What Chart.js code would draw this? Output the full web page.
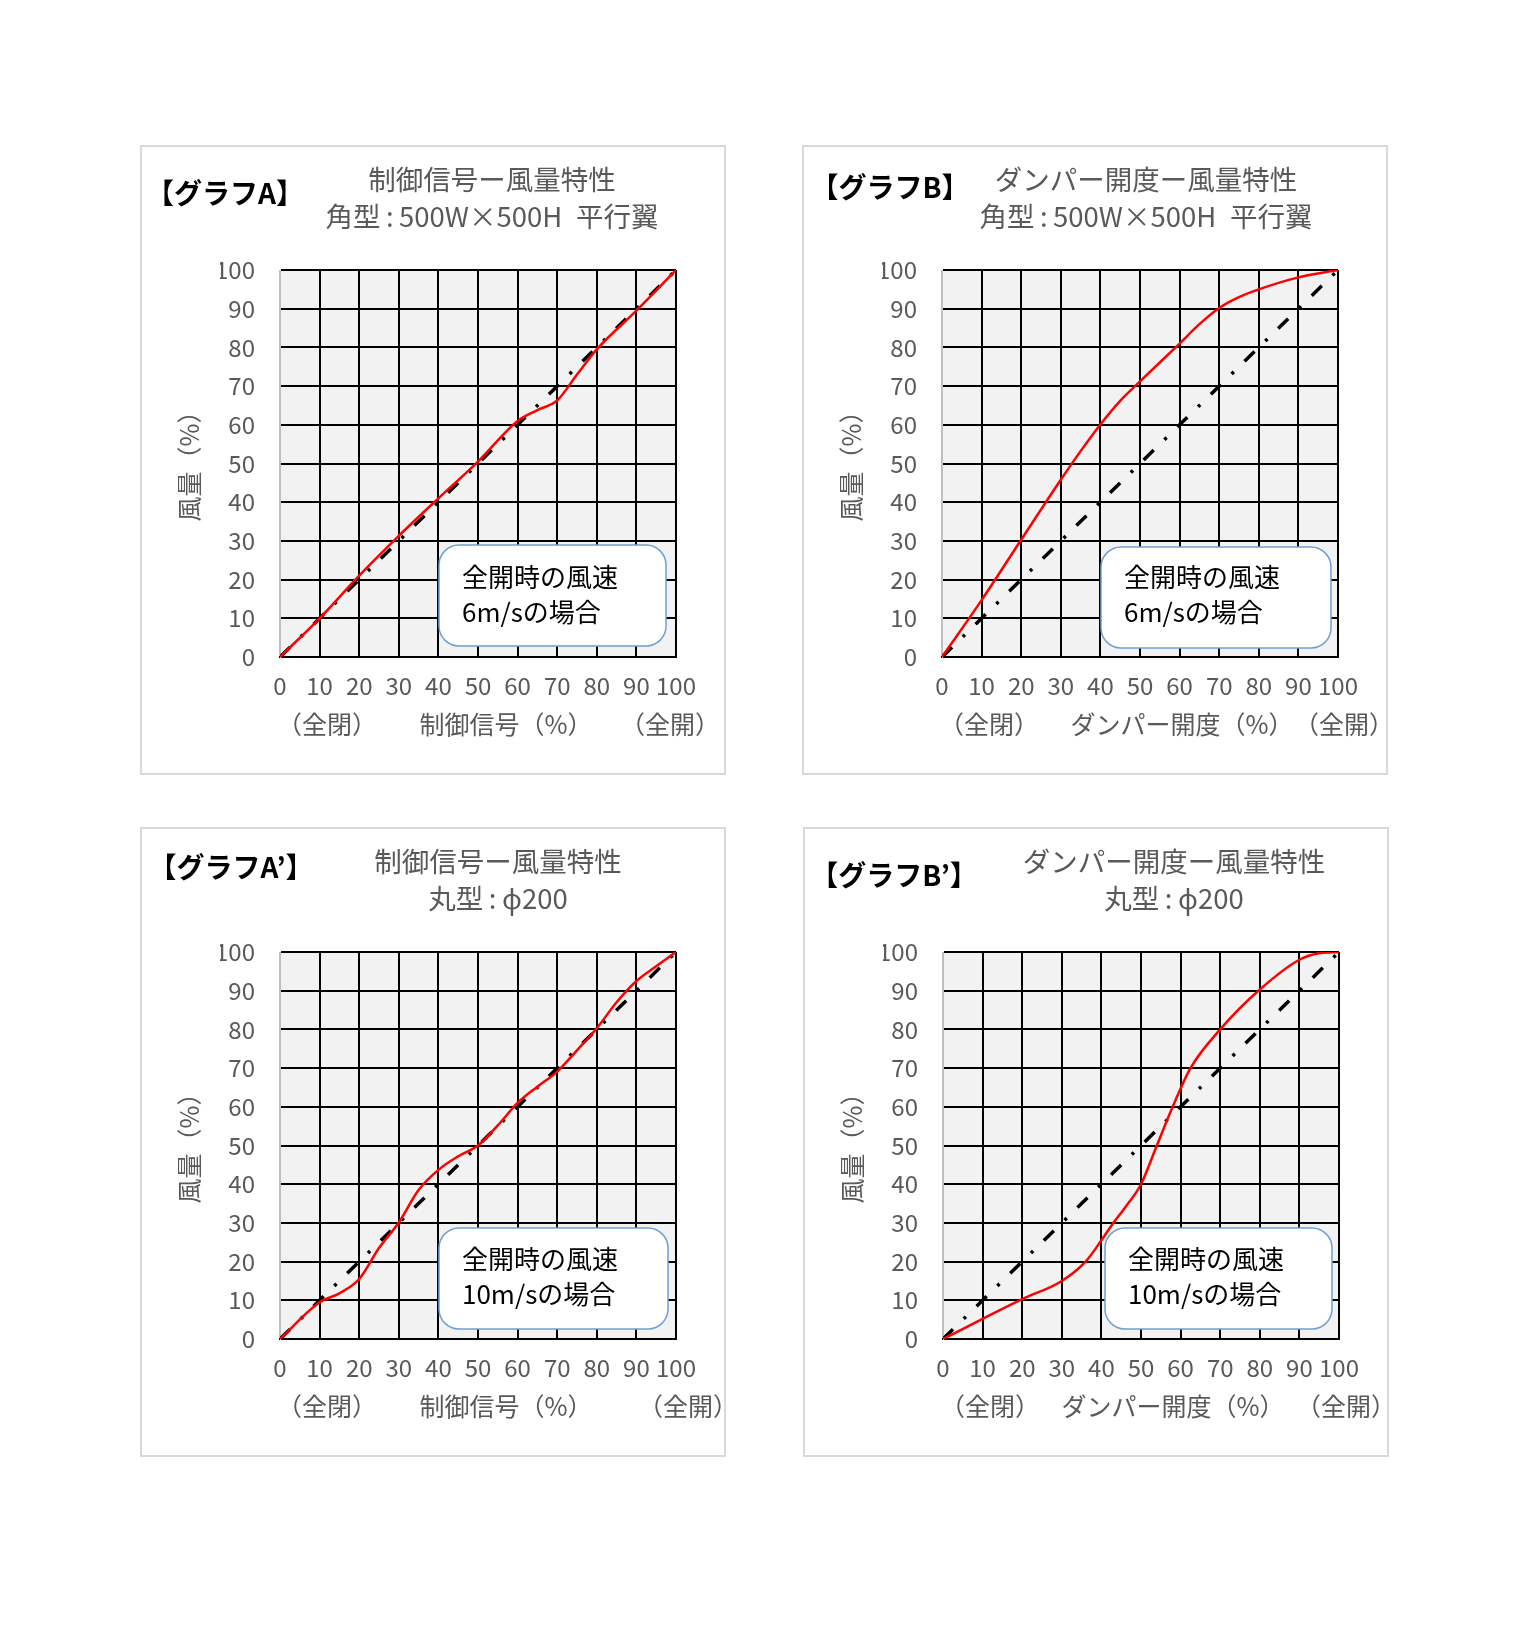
<!DOCTYPE html>
<html>
<head>
<meta charset="utf-8">
<script src="https://cdn.jsdelivr.net/npm/chart.js@4.4.1/dist/chart.umd.min.js"></script>
<style>
  body { margin: 0; background: #fff; width: 1532px; height: 1648px; position: relative; }
  .panel { position: absolute; width: 586px; height: 630px; box-shadow: inset 0 0 0 2px #d9d9d9; }
  .panel canvas { position: absolute; left: 0; top: 0; }
</style>
</head>
<body>
<div class="panel" style="left:140px;top:145px"><canvas id="chartA" width="586" height="630"></canvas></div>
<div class="panel" style="left:802px;top:145px"><canvas id="chartB" width="586" height="630"></canvas></div>
<div class="panel" style="left:140px;top:827px"><canvas id="chartA2" width="586" height="630"></canvas></div>
<div class="panel" style="left:803px;top:827px"><canvas id="chartB2" width="586" height="630"></canvas></div>
<script>
// diagonal reference (dash-dot)
const refX = [0, 100];
const refY = [0, 100];

// Graph A: control signal vs air volume (rectangular)
const signalA = [0, 10, 20, 30, 40, 50, 60, 65, 70, 75, 80, 90, 100];
const flowA   = [0, 10, 21, 31.3, 41, 50.5, 61, 63.8, 66.3, 73, 79.5, 89.5, 100];

// Graph B: damper opening vs air volume (rectangular)
const openB = [0, 10, 20, 30, 35, 40, 45, 50, 60, 65, 70, 75, 80, 90, 100];
const flowB = [0, 14.7, 30.3, 45.8, 53.2, 60.1, 66.2, 71.2, 81, 86, 90.2, 93, 95, 98.1, 100];

// Graph A': control signal vs air volume (round)
const signalA2 = [0, 10, 15, 20, 25, 30, 35, 40, 45, 50, 55, 60, 65, 70, 75, 80, 85, 90, 95, 100];
const flowA2   = [0, 9.5, 11.8, 15.5, 23.5, 30.1, 38.5, 43.7, 47.2, 50, 55.2, 61, 65.2, 69.1, 74.6, 80.3, 87, 92.5, 96.3, 100];

// Graph B': damper opening vs air volume (round)
const openB2 = [0, 10, 20, 30, 36, 40, 43, 46, 50, 54, 58, 62.5, 70, 80, 90, 95, 100];
const flowB2 = [0, 5.2, 10.3, 15, 20, 25.5, 30, 34, 40, 50, 60, 70, 80, 90.3, 98, 99.7, 100];

const xTicks = [0, 10, 20, 30, 40, 50, 60, 70, 80, 90, 100];

const JP = '"Noto Sans CJK JP", "Noto Sans", sans-serif';
const GRAY = '#595959';

const panelText = {
  id: 'panelText',
  beforeDraw(chart) {
    const a = chart.chartArea, c = chart.ctx;
    c.save();
    c.fillStyle = '#f2f2f2';
    c.fillRect(a.left, a.top, a.right - a.left, a.bottom - a.top);
    c.restore();
  },
  afterDraw(chart, args, o) {
    const c = chart.ctx;
    c.save();
    c.textBaseline = 'middle';
    // heading
    c.fillStyle = '#000';
    c.textAlign = 'center';
    c.font = 'bold 28px ' + JP;
    c.fillText(o.head, o.headX, o.headY);
    // subtitle
    c.fillStyle = GRAY;
    c.font = '27.5px ' + JP;
    c.fillText(o.sub1, o.subX, 35);
    c.fillText(o.sub2, o.subX, 72);
    // x sub labels
    c.font = '25px ' + JP;
    c.fillText('（全閉）', 187, 579);
    c.fillText(o.xTitle, o.xTitleX, 579);
    c.fillText('（全開）', o.openX, 579);
    // y title
    c.save();
    c.translate(49, 315);
    c.rotate(-Math.PI / 2);
    c.fillText('風量（%）', 0, 0);
    c.restore();
    // note box
    const b = o.box;
    c.beginPath();
    c.roundRect(b[0], b[1], b[2] - b[0], b[3] - b[1], 20);
    c.fillStyle = '#fff';
    c.fill();
    c.strokeStyle = '#6fa0d4';
    c.lineWidth = 1.5;
    c.stroke();
    c.fillStyle = '#000';
    c.textAlign = 'left';
    c.font = '26px ' + JP;
    c.fillText('全開時の風速', b[0] + 23, 432);
    c.fillText(o.speed + 'の場合', b[0] + 23, 467);
    c.restore();
  }
};

function makeChart(id, xs, ys, t) {
  const curve = xs.map((x, i) => ({ x: x, y: ys[i] }));
  const diag = refX.map((x, i) => ({ x: x, y: refY[i] }));
  const tickFont = { family: JP, size: 24 };
  return new Chart(document.getElementById(id), {
    type: 'line',
    data: {
      datasets: [
        {
          data: curve,
          borderColor: '#ff0000',
          borderWidth: 2.5,
          cubicInterpolationMode: 'monotone',
          pointRadius: 0,
          fill: false
        },
        {
          data: diag,
          borderColor: '#000',
          borderWidth: 3.5,
          borderDash: [14, 15, 3, 15],
          borderCapStyle: 'butt',
          pointRadius: 0,
          fill: false
        }
      ]
    },
    options: {
      responsive: false,
      animation: false,
      devicePixelRatio: 1,
      layout: { padding: { top: 125, right: 50, left: 80, bottom: 68 } },
      scales: {
        x: {
          type: 'linear',
          min: 0,
          max: 100,
          afterBuildTicks: s => { s.ticks = xTicks.map(v => ({ value: v })); },
          afterFit: s => { s.height = 50; },
          ticks: { color: GRAY, font: tickFont, padding: 14, maxRotation: 0, autoSkip: false },
          grid: { color: ctx => ctx.index === 0 ? '#bfbfbf' : '#000', lineWidth: 2, drawTicks: false },
          border: { display: true, color: '#000', width: 2 }
        },
        y: {
          min: 0,
          max: 100,
          afterBuildTicks: s => { s.ticks = xTicks.map(v => ({ value: v })); },
          afterFit: s => { s.width = 60; },
          ticks: { color: GRAY, font: tickFont, padding: 25 },
          grid: { color: '#000', lineWidth: 2, drawTicks: false },
          border: { display: true, color: '#bfbfbf', width: 1 }
        }
      },
      plugins: {
        legend: { display: false },
        tooltip: { enabled: false },
        panelText: t
      }
    },
    plugins: [panelText]
  });
}

makeChart('chartA', signalA, flowA, {
  head: '【グラフA】', headX: 85, headY: 48,
  sub1: '制御信号ー風量特性', sub2: '角型\u2009:\u2009500W×500H\u2002平行翼', subX: 352,
  xTitle: '制御信号（%）', xTitleX: 366, openX: 530,
  box: [299, 400, 526, 501], speed: '6m/s'
});
makeChart('chartB', openB, flowB, {
  head: '【グラフB】', headX: 88, headY: 42,
  sub1: 'ダンパー開度ー風量特性', sub2: '角型\u2009:\u2009500W×500H\u2002平行翼', subX: 344,
  xTitle: 'ダンパー開度（%）', xTitleX: 380, openX: 542,
  box: [299, 402, 529, 503], speed: '6m/s'
});
makeChart('chartA2', signalA2, flowA2, {
  head: '【グラフA’】', headX: 91, headY: 40,
  sub1: '制御信号ー風量特性', sub2: '丸型\u2009:\u2009ϕ200', subX: 358,
  xTitle: '制御信号（%）', xTitleX: 366, openX: 548,
  box: [299, 401, 528, 502], speed: '10m/s'
});
makeChart('chartB2', openB2, flowB2, {
  head: '【グラフB’】', headX: 91, headY: 48,
  sub1: 'ダンパー開度ー風量特性', sub2: '丸型\u2009:\u2009ϕ200', subX: 371,
  xTitle: 'ダンパー開度（%）', xTitleX: 370, openX: 543,
  box: [302, 401, 529, 502], speed: '10m/s'
});
</script>
</body>
</html>
